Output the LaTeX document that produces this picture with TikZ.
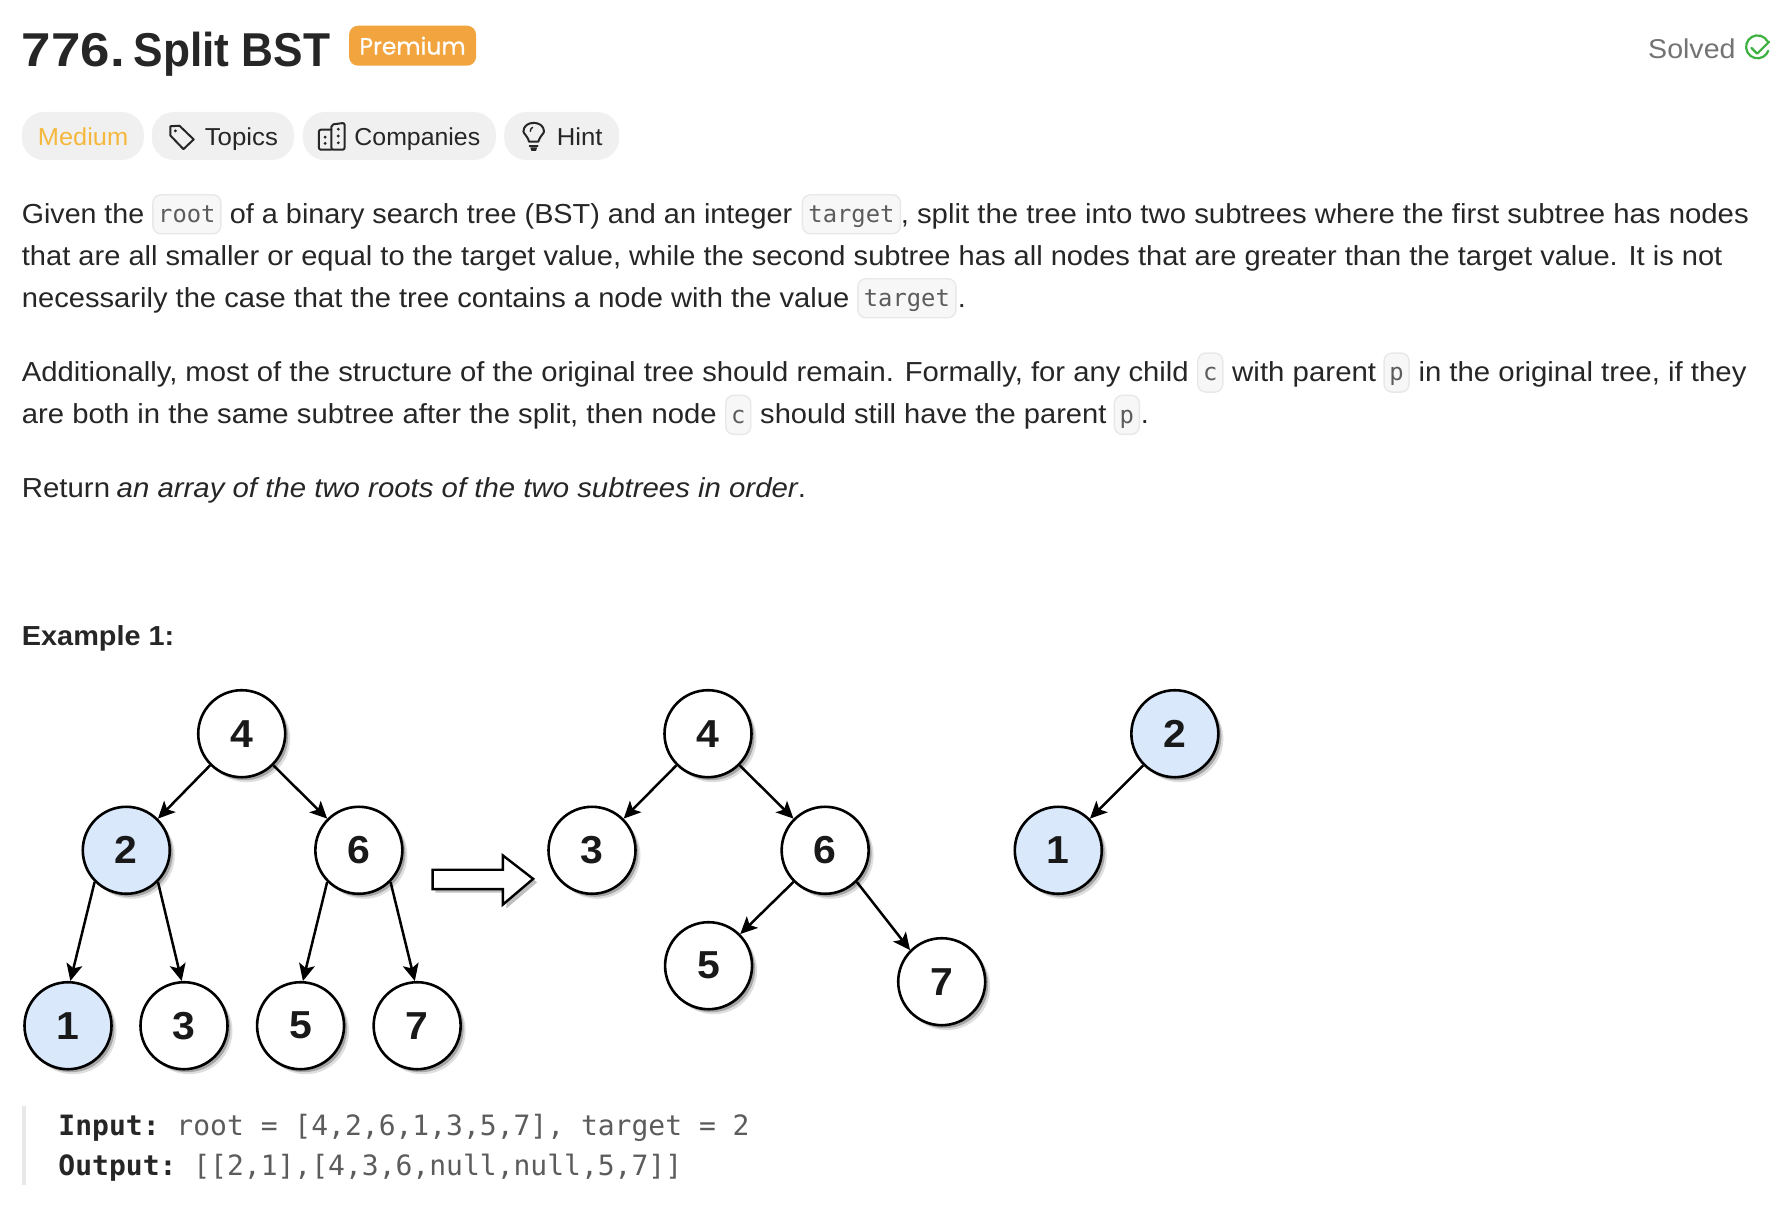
\documentclass[tikz,border=0pt]{standalone}
\usepackage{fontspec}
\usepackage{graphicx}
\setmainfont{Liberation Sans}[FakeStretch=1.05]
\setmonofont{DejaVu Sans Mono}
\newfontfamily\titlefont{Liberation Sans}
\newfontfamily\badgefont{Poppins}[FakeBold=0.5]
\usetikzlibrary{arrows.meta,shadows}
\definecolor{ink}{HTML}{262626}
\definecolor{codegray}{HTML}{5C5C5C}
\definecolor{chipfill}{HTML}{F7F7F7}
\definecolor{chipline}{HTML}{E8E8E8}
\definecolor{pillfill}{HTML}{F0F0F0}
\definecolor{amber}{HTML}{F2A53F}
\definecolor{mediumc}{HTML}{F5B83D}
\definecolor{solvedc}{HTML}{737373}
\definecolor{greenc}{HTML}{3DB13F}
\definecolor{hilite}{HTML}{DAE8FC}
\tikzset{
 txt/.style={anchor=base west,inner sep=0pt,text=ink,font=\fontsize{27.5}{32}\selectfont},
 chip/.style={draw=chipline,line width=1.4pt,fill=chipfill,rounded corners=8pt,inner sep=0pt,text=codegray,
   font=\ttfamily\fontsize{23.8}{28}\selectfont,text height=19.5pt,text depth=3pt,minimum height=39pt},
 pill/.style={fill=pillfill,rounded corners=22pt,inner sep=0pt,minimum height=48pt},
 pilltxt/.style={anchor=base west,inner sep=0pt,text=ink,font=\fontsize{24.5}{32}\selectfont},
 tn/.style={circle,draw=black,line width=2.6pt,fill=white,minimum size=87pt,inner sep=0pt,
   font=\bfseries\fontsize{39}{39}\selectfont,text=black!90,
   general shadow={shadow xshift=5pt,shadow yshift=-5pt,fill=black,opacity=.13},
   general shadow={shadow xshift=3pt,shadow yshift=-3pt,fill=black,opacity=.25}},
 tb/.style={tn,fill=hilite},
 con/.style={draw=black,line width=2.5pt,-{Stealth[length=17pt,width=16pt,inset=4pt]}},
 monoline/.style={anchor=base west,inner sep=0pt,text=codegray,font=\ttfamily\fontsize{28}{32}\selectfont},
 icon/.style={draw=ink,line width=2pt,line join=round,line cap=round},
}
\newcommand{\kw}[1]{\textcolor{ink}{\bfseries #1}}
\newcommand{\fitw}[2]{\resizebox{\dimexpr #1pt*8/7\relax}{\height}{#2}}
\begin{document}
\begin{tikzpicture}[x=1.142857pt,y=-1.142857pt]
\useasboundingbox (0,0) rectangle (1568,1064);
\fill[white] (0,0) rectangle (1568,1064);
% header
\node[anchor=base west,inner sep=0pt,text=ink,font=\titlefont\bfseries\fontsize{47.5}{50}\selectfont] (title) at (19,58) {\fitw{90}{776.}\kern 9pt\fitw{172}{Split BST}};
\node[fill=amber,rounded corners=9pt,inner sep=0pt,minimum width=127pt,minimum height=40pt,text=white,font=\badgefont\fontsize{23.5}{28}\selectfont] (prem) at (361,40) {Premium};
\node[anchor=base west,inner sep=0pt,text=solvedc,font=\fontsize{27.2}{32}\selectfont] (solved) at (1442,51) {Solved};
\draw[greenc,line width=2.2pt,line cap=round] (1546.5,36) arc (-30:-340:10);
\draw[greenc,line width=2.2pt,line cap=round,line join=round] (1532.5,42) -- (1537.5,47) -- (1548,36.5);
% pills
\node[pill,minimum width=122pt] (pmed) at (72.5,119) {};
\node[pill,minimum width=142pt] (ptop) at (195,119) {};
\node[pill,minimum width=193pt] (pcom) at (349.5,119) {};
\node[pill,minimum width=115pt] (phin) at (491.5,119) {};
\node[pilltxt,text=mediumc] (lmed) at (33,127.5) {\fitw{79}{Medium}};
\node[pilltxt] (ltop) at (179,127.5) {\fitw{64}{Topics}};
\node[pilltxt] (lcom) at (310,127.5) {\fitw{110}{Companies}};
\node[pilltxt] (lhin) at (487,127.5) {\fitw{40}{Hint}};
% tag icon
\draw[icon] (149,110.5) -- (157,110) -- (169.5,122) -- (160.5,130.5) -- (149,118.5) -- cycle;
\fill[ink] (153.5,114.5) circle (1.4);
% companies icon
\draw[icon,rounded corners=2pt] (290,109) -- (301.5,107.5) -- (301.5,131) -- (290,131) -- cycle;
\draw[icon,rounded corners=2pt] (290,113.5) -- (279,113.5) -- (279,131) -- (290,131);
\foreach \p in {(284.5,120),(284.5,125.5),(296,113),(296,119),(296,125)} \fill[ink] \p circle (1.4);
% bulb icon
\draw[icon] (463,124) .. controls (461,118) and (458,117) .. (458,115) .. controls (458,105) and (476,105) .. (476,115) .. controls (476,117) and (473,118) .. (471,124) -- cycle;
\draw[icon] (463.5,128) -- (470.5,128);
\fill[ink] (464,129) -- (470,129) -- (469,132) -- (465,132) -- cycle;
\draw[icon,line width=1.4pt] (464,115) .. controls (464,113) and (465,112) .. (466,111.5);
% paragraph 1
\node[txt] (t1) at (19,195.5) {\fitw{107}{Given the}};
\node[chip,minimum width=68pt] (c1) at (163.5,187.5) {root};
\node[txt] (t2) at (201,195.5) {\fitw{492}{of a binary search tree (BST) and an integer}};
\node[chip,minimum width=98pt] (c2) at (745,187.5) {target};
\node[txt] (t3) at (788,195.5) {\fitw{742}{, split the tree into two subtrees where the first subtree has nodes}};
\node[txt] (t4) at (19,232) {\fitw{1488}{that are all smaller or equal to the target value, while the second subtree has all nodes that are greater than the target value. It is not}};
\node[txt] (t5) at (19,269) {\fitw{724}{necessarily the case that the tree contains a node with the value}};
\node[chip,minimum width=98pt] (c3) at (793.5,261) {target};
\node[txt] (t6) at (838,269) {.};
% paragraph 2
\node[txt] (t7) at (19,334) {\fitw{1021}{Additionally, most of the structure of the original tree should remain. Formally, for any child}};
\node[chip,minimum width=25pt] (c4) at (1059,326) {c};
\node[txt] (t8) at (1078,334) {\fitw{126}{with parent}};
\node[chip,minimum width=25pt] (c5) at (1222,326) {p};
\node[txt] (t9) at (1241,334) {\fitw{287}{in the original tree, if they}};
\node[txt] (t10) at (19,370.5) {\fitw{608}{are both in the same subtree after the split, then node}};
\node[chip,minimum width=25pt] (c6) at (646,363) {c};
\node[txt] (t11) at (665,370.5) {\fitw{303}{should still have the parent}};
\node[chip,minimum width=25pt] (c7) at (986,363) {p};
\node[txt] (t12) at (998,370.5) {.};
% paragraph 3
\node[txt] (t13) at (19,435) {\fitw{686}{Return\kern-1.5pt\ \itshape an array of the two roots of the two subtrees in order\upshape.}};
\node[txt,font=\bfseries\fontsize{27.5}{32}\selectfont] (t14) at (19,565) {Example 1:};
% trees
\node[tn] (a4) at (211.5,642) {4};
\node[tb] (a2) at (110.5,744) {2};
\node[tn] (a6) at (314,744) {6};
\node[tb] (a1) at (59.5,897.5) {1};
\node[tn] (a3) at (161,897.5) {3};
\node[tn] (a5) at (263,897.5) {5};
\node[tn] (a7) at (365,897.5) {7};
\node[tn] (b4) at (619.5,642) {4};
\node[tn] (b3) at (518,744) {3};
\node[tn] (b6) at (722,744) {6};
\node[tn] (b5) at (620,845) {5};
\node[tn] (b7) at (824,859) {7};
\node[tb] (c2n) at (1028,642) {2};
\node[tb] (c1n) at (926,744) {1};
\draw[con] (a4.225) -- (a2.45);
\draw[con] (a4.315) -- (a6.135);
\draw[con] (a2.225) -- (a1.87);
\draw[con] (a2.315) -- (a3.93);
\draw[con] (a6.225) -- (a5.87);
\draw[con] (a6.315) -- (a7.93);
\draw[con] (b4.225) -- (b3.45);
\draw[con] (b4.315) -- (b6.135);
\draw[con] (b6.225) -- (b5.45);
\draw[con] (b6.315) -- (b7.135);
\draw[con] (c2n.225) -- (c1n.45);
% hollow arrow
\fill[black!25] (381,764) -- (443,764) -- (443,751) -- (470,772) -- (443,795) -- (443,781) -- (381,781) -- cycle;
\draw[draw=black,line width=2.4pt,fill=white,line join=miter] (378.5,761) -- (440,761) -- (440,748.5) -- (466.5,769) -- (440,791.5) -- (440,778) -- (378.5,778) -- cycle;
% example text
\fill[chipline] (19,968) rectangle (22.5,1037);
\node[monoline] (m1) at (51,993.5) {\kw{Input:} root = [4,2,6,1,3,5,7], target = 2};
\node[monoline] (m2) at (51,1028.5) {\kw{Output:} [[2,1],[4,3,6,null,null,5,7]]};
\end{tikzpicture}
\end{document}
